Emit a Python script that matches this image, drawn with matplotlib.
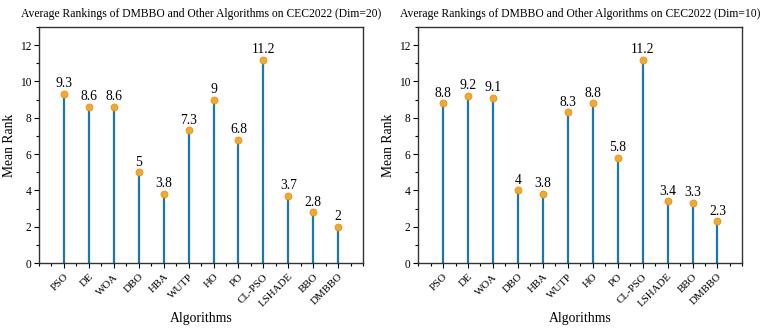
"""
    Lollipop plots of mean rankings on CEC2022
"""
import matplotlib.pyplot as plt
from matplotlib.ticker import MultipleLocator

plt.rcParams['font.family'] = ['Liberation Serif', 'DejaVu Serif']

algorithms = ['PSO', 'DE', 'WOA', 'DBO', 'HBA', 'WUTP', 'HO', 'PO',
              'CL-PSO', 'LSHADE', 'BBO', 'DMBBO']
rank_dim20 = [9.3, 8.6, 8.6, 5, 3.8, 7.3, 9, 6.8, 11.2, 3.7, 2.8, 2]
rank_dim10 = [8.8, 9.2, 9.1, 4, 3.8, 8.3, 8.8, 5.8, 11.2, 3.4, 3.3, 2.3]


# One lollipop panel
def lollipop(ax, values, title):
    x = list(range(1, len(values) + 1))
    ax.vlines(x, 0, values, color='#1a78b0', linewidth=1.6, zorder=2)
    ax.plot(x, values, 'o', markersize=5, markerfacecolor='#f7a829',
            markeredgecolor='#e69316', markeredgewidth=0.6, zorder=3)
    for xi, v in zip(x, values):
        ax.text(xi, v + 0.2, f'{v:g}', ha='center', va='bottom', fontsize=9.8)
    ax.set_xlim(0, 13)
    ax.set_ylim(0, 13)
    ax.set_xticks(x)
    ax.set_xticklabels(algorithms, rotation=45, ha='right',
                       rotation_mode='anchor', fontsize=7.8)
    ax.xaxis.set_minor_locator(MultipleLocator(0.5))
    ax.yaxis.set_major_locator(MultipleLocator(2))
    ax.yaxis.set_minor_locator(MultipleLocator(1))
    ax.tick_params(axis='y', which='major', direction='out', length=3.5,
                   width=0.8, labelsize=8.3, pad=2)
    ax.tick_params(axis='x', which='major', direction='out', length=3.5,
                   width=0.8, pad=3)
    ax.tick_params(axis='both', which='minor', direction='out', length=2,
                   width=0.8)
    for s in ax.spines.values():
        s.set_linewidth(1.0)
        s.set_color('#333333')
    ax.set_title(title, fontsize=8.4, pad=7)
    ax.set_xlabel('Algorithms', fontsize=9.8, labelpad=2)
    ax.set_ylabel('Mean Rank', fontsize=9.8, labelpad=3)


fig, (ax1, ax2) = plt.subplots(1, 2, figsize=(7.63, 3.28), dpi=100)
ax1.set_position([0.051, 0.198, 0.425, 0.72])
ax2.set_position([0.548, 0.198, 0.425, 0.72])

lollipop(ax1, rank_dim20,
         'Average Rankings of DMBBO and Other Algorithms on CEC2022 (Dim=20)')
lollipop(ax2, rank_dim10,
         'Average Rankings of DMBBO and Other Algorithms on CEC2022 (Dim=10)')

fig.savefig('out.png', dpi=100)
